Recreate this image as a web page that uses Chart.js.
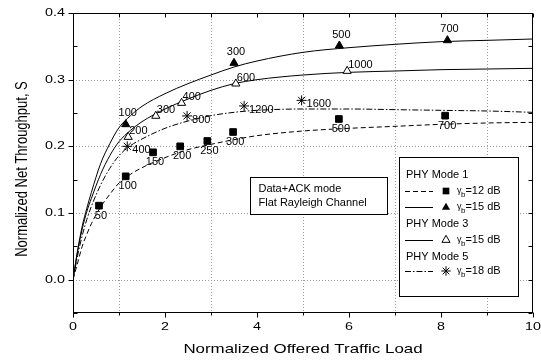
<!DOCTYPE html>
<html>
<head>
<meta charset="utf-8">
<script src="https://cdn.jsdelivr.net/npm/chart.js@4.4.0/dist/chart.umd.min.js"></script>
<style>
  html, body { margin: 0; padding: 0; background: #fff; }
  #wrap { width: 541px; height: 362px; }
</style>
</head>
<body>
<div id="wrap"><canvas id="chart" width="541" height="362"></canvas></div>
<script>
// analytical curves
const curveLoad = [0, 0.1, 0.2, 0.3, 0.4, 0.6, 0.8, 1, 1.25, 1.5, 2, 2.5, 3, 3.5, 4, 5, 6, 7, 8, 9, 10];
const mode1Db12Curve = [0, 0.025, 0.05, 0.068, 0.084, 0.109, 0.128, 0.145, 0.158, 0.168, 0.183, 0.195, 0.203, 0.210, 0.216, 0.223, 0.227, 0.230, 0.233, 0.235, 0.236];
const mode1Db15Curve = [0, 0.044, 0.08, 0.107, 0.131, 0.174, 0.204, 0.228, 0.246, 0.260, 0.279, 0.294, 0.307, 0.319, 0.328, 0.341, 0.348, 0.353, 0.357, 0.359, 0.361];
const mode3Db15Curve = [0, 0.042, 0.076, 0.102, 0.122, 0.158, 0.186, 0.207, 0.224, 0.237, 0.256, 0.271, 0.284, 0.294, 0.300, 0.307, 0.311, 0.313, 0.315, 0.316, 0.317];
const mode5Db18Curve = [0, 0.036, 0.066, 0.09, 0.11, 0.142, 0.167, 0.186, 0.201, 0.211, 0.227, 0.238, 0.246, 0.251, 0.254, 0.256, 0.256, 0.255, 0.254, 0.253, 0.251];

// simulation points and their station counts
const mode1Db12Load = [0.565, 1.146, 1.74, 2.33, 2.92, 3.48, 5.78, 8.09];
const mode1Db12Points = [0.111, 0.155, 0.191, 0.200, 0.208, 0.2215, 0.241, 0.246];
const mode1Db12Labels = ["50", "100", "150", "200", "250", "300", "500", "700"];

const mode1Db15Load = [1.146, 3.5, 5.79, 8.14];
const mode1Db15Points = [0.233, 0.325, 0.351, 0.359];
const mode1Db15Labels = ["100", "300", "500", "700"];

const mode3Db15Load = [1.2, 1.8, 2.36, 3.54, 5.96];
const mode3Db15Points = [0.214, 0.2456, 0.265, 0.294, 0.313];
const mode3Db15Labels = ["200", "300", "400", "600", "1000"];

const mode5Db18Load = [1.18, 2.48, 3.72, 4.97];
const mode5Db18Points = [0.2, 0.2456, 0.2606, 0.269];
const mode5Db18Labels = ["400", "800", "1200", "1600"];

const xTicks = [0, 2, 4, 6, 8, 10];
const xMinorTicks = [1, 3, 5, 7, 9];
const yTicks = [0, 0.1, 0.2, 0.3, 0.4];
const yMinorTicks = [-0.05, 0.05, 0.15, 0.25, 0.35];

const xy = (xs, ys) => xs.map((v, i) => ({ x: v, y: ys[i] }));
const FONT = '"Liberation Sans", Arial, sans-serif';
const DASH = [5, 3];
const DASHDOT = [6, 2, 1.5, 2];

function line(ctx, x1, y1, x2, y2) {
  ctx.beginPath();
  ctx.moveTo(x1, y1);
  ctx.lineTo(x2, y2);
  ctx.stroke();
}

function text(ctx, str, x, y, size, align, sx) {
  ctx.save();
  ctx.translate(x, y);
  ctx.scale(sx || 1, 1);
  ctx.font = size + "px " + FONT;
  ctx.textAlign = align || "left";
  ctx.textBaseline = "middle";
  ctx.fillStyle = "#000";
  ctx.fillText(str, 0, 0);
  ctx.restore();
}

function marker(ctx, kind, x, y) {
  ctx.save();
  ctx.setLineDash([]);
  ctx.lineWidth = 1;
  ctx.strokeStyle = "#000";
  ctx.fillStyle = "#000";
  const r = 4.7;
  if (kind === "rect") {
    const s = r * Math.SQRT1_2;
    ctx.fillRect(x - s, y - s, 2 * s, 2 * s);
  } else if (kind === "tri" || kind === "openTri") {
    ctx.beginPath();
    for (let k = 0; k < 3; k++) {
      const a = k * 2 * Math.PI / 3;
      ctx[k ? "lineTo" : "moveTo"](x + Math.sin(a) * r, y - Math.cos(a) * r);
    }
    ctx.closePath();
    if (kind === "tri") ctx.fill();
    else { ctx.fillStyle = "#fff"; ctx.fill(); ctx.stroke(); }
  } else {
    for (let k = 0; k < 4; k++) {
      const a = k * Math.PI / 4;
      line(ctx, x - Math.cos(a) * r, y - Math.sin(a) * r, x + Math.cos(a) * r, y + Math.sin(a) * r);
    }
  }
  ctx.restore();
}

function gammaEntry(ctx, x, y, value) {
  ctx.save();
  ctx.font = "9px " + FONT;
  ctx.fillStyle = "#000";
  ctx.textBaseline = "middle";
  ctx.fillText("\u03b3", x, y);
  let w = ctx.measureText("\u03b3").width;
  ctx.font = "8px " + FONT;
  ctx.fillText("b", x + w - 0.5, y + 4);
  w += ctx.measureText("b").width - 0.5;
  ctx.restore();
  text(ctx, "=" + value + " dB", x + w, y, 11);
}

const figure = {
  id: "figure",
  beforeDatasetsDraw(chart) {
    const { ctx, chartArea: a, scales: { x, y } } = chart;
    ctx.save();
    ctx.strokeStyle = "#9a9a9a";
    ctx.lineWidth = 1;
    ctx.setLineDash([1, 2]);
    xMinorTicks.forEach(v => {
      const px = Math.round(x.getPixelForValue(v)) + 0.5;
      line(ctx, px, a.top, px, a.bottom);
    });
    yTicks.slice(0, -1).forEach(v => {
      const py = Math.round(y.getPixelForValue(v)) + 0.5;
      line(ctx, a.left, py, a.right, py);
    });
    ctx.restore();
  },
  afterDatasetsDraw(chart) {
    const { ctx, chartArea: a, scales: { x, y } } = chart;
    ctx.save();
    ctx.strokeStyle = "#000";
    ctx.lineWidth = 1;
    ctx.setLineDash([]);
    ctx.strokeRect(a.left + 0.5, a.top + 0.5, a.right - a.left - 1, a.bottom - a.top - 1);

    const L = a.left + 0.5, R = a.right - 0.5, T = a.top + 0.5, B = a.bottom - 0.5;
    xTicks.concat(xMinorTicks).forEach(v => {
      const px = Math.round(x.getPixelForValue(v)) + 0.5;
      line(ctx, px, B, px, B + (xTicks.includes(v) ? 5 : 3));
      line(ctx, px, T, px, T + 4);
    });
    yTicks.forEach(v => {
      const py = Math.round(y.getPixelForValue(v)) + 0.5;
      line(ctx, L - 5, py, L, py);
      line(ctx, R - 4, py, R, py);
    });
    yMinorTicks.forEach(v => {
      const py = Math.round(y.getPixelForValue(v)) + 0.5;
      line(ctx, L, py, L + 4, py);
      line(ctx, R - 4, py, R, py);
    });

    // tick labels
    xTicks.forEach(v => text(ctx, String(v), x.getPixelForValue(v), a.bottom + 14, 11, "center", 1.3));
    yTicks.forEach(v => text(ctx, v.toFixed(1), a.left - 8, y.getPixelForValue(v), 11, "right", 1.3));

    // axis titles
    text(ctx, "Normalized Offered Traffic Load", (a.left + a.right) / 2, a.bottom + 36, 13, "center", 1.3);
    ctx.save();
    ctx.translate(22, (a.top + a.bottom) / 2 + 6);
    ctx.scale(1.3, 1);
    ctx.rotate(-Math.PI / 2);
    text(ctx, "Normalized Net Throughput, S", 0, 0, 13, "center");
    ctx.restore();

    // station count labels beside the points
    chart.data.datasets.forEach((ds, i) => {
      if (!ds.pointLabels) return;
      chart.getDatasetMeta(i).data.forEach((el, j) => {
        text(ctx, ds.pointLabels[j], el.x + ds.labelDx, el.y + ds.labelDy, 11, ds.labelAlign);
      });
    });

    // scenario box
    ctx.fillStyle = "#fff";
    ctx.fillRect(250.5, 177.5, 137, 37);
    ctx.strokeRect(250.5, 177.5, 137, 37);
    text(ctx, "Data+ACK mode", 258.5, 188.5, 11);
    text(ctx, "Flat Rayleigh Channel", 258.5, 203, 11);

    // legend box
    ctx.fillStyle = "#fff";
    ctx.fillRect(399.5, 157.5, 119, 139);
    ctx.strokeRect(399.5, 157.5, 119, 139);
    const lx1 = 405, lx2 = 433, mx = 446, tx = 457;
    text(ctx, "PHY Mode 1", 406, 175, 11);
    ctx.setLineDash(DASH);
    line(ctx, lx1, 191.5, lx2, 191.5);
    ctx.setLineDash([]);
    marker(ctx, "rect", mx, 191);
    gammaEntry(ctx, tx, 191, 12);
    line(ctx, lx1, 207.5, lx2, 207.5);
    marker(ctx, "tri", mx, 207.5);
    gammaEntry(ctx, tx, 207, 15);
    text(ctx, "PHY Mode 3", 406, 224, 11);
    line(ctx, lx1, 240.5, lx2, 240.5);
    marker(ctx, "openTri", mx, 240);
    gammaEntry(ctx, tx, 240, 15);
    text(ctx, "PHY Mode 5", 406, 257, 11);
    ctx.setLineDash(DASHDOT);
    line(ctx, lx1, 271.5, lx2, 271.5);
    ctx.setLineDash([]);
    marker(ctx, "star", mx, 271);
    gammaEntry(ctx, tx, 271, 18);
    ctx.restore();
  }
};

const pointSet = (load, vals, labels, style, fill, dx, dy, align) => ({
  data: xy(load, vals),
  showLine: false,
  pointStyle: style,
  pointRadius: style === "star" ? 5 : 4.7,
  pointBorderColor: "#000",
  pointBackgroundColor: fill,
  pointBorderWidth: 1,
  pointLabels: labels,
  labelDx: dx,
  labelDy: dy,
  labelAlign: align,
  order: 0
});

const curveSet = (vals, dash) => ({
  data: xy(curveLoad, vals),
  showLine: true,
  pointRadius: 0,
  borderColor: "#000",
  borderWidth: 1,
  borderDash: dash,
  cubicInterpolationMode: "monotone",
  fill: false,
  order: 1
});

new Chart(document.getElementById("chart"), {
  type: "scatter",
  data: {
    datasets: [
      pointSet(mode1Db12Load, mode1Db12Points, mode1Db12Labels, "rect", "#000", 2, 10, "center"),
      pointSet(mode1Db15Load, mode1Db15Points, mode1Db15Labels, "triangle", "#000", 2, -11, "center"),
      pointSet(mode3Db15Load, mode3Db15Points, mode3Db15Labels, "triangle", "#fff", 1, -6, "left"),
      pointSet(mode5Db18Load, mode5Db18Points, mode5Db18Labels, "star", "#000", 5, 4, "left"),
      curveSet(mode1Db12Curve, DASH),
      curveSet(mode1Db15Curve, []),
      curveSet(mode3Db15Curve, []),
      curveSet(mode5Db18Curve, DASHDOT)
    ]
  },
  options: {
    responsive: false,
    animation: false,
    devicePixelRatio: 1,
    layout: { padding: { left: 0, top: 13, right: 8, bottom: 0 } },
    plugins: { legend: { display: false }, tooltip: { enabled: false } },
    scales: {
      x: {
        type: "linear", min: 0, max: 10,
        grid: { display: false }, border: { display: false },
        ticks: { display: false },
        afterFit: s => { s.height = 49; }
      },
      y: {
        type: "linear", min: -0.05, max: 0.4,
        grid: { display: false }, border: { display: false },
        ticks: { display: false },
        afterFit: s => { s.width = 73; }
      }
    }
  },
  plugins: [figure]
});
</script>
</body>
</html>
